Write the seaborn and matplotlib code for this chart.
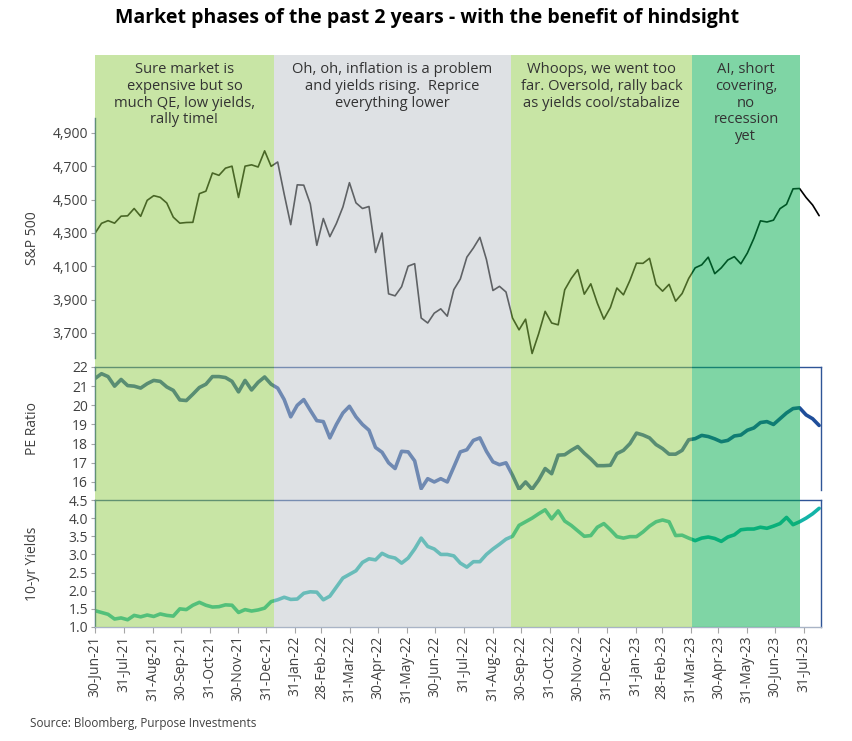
import pandas as pd
import matplotlib.pyplot as plt
from matplotlib.ticker import FuncFormatter
import seaborn as sns

# ========== Setup ==========
sns.set_theme(style="white")
plt.rcParams["font.family"] = ["Open Sans", "DejaVu Sans"]

W, H = 852, 741

# ========== Data (weekly) ==========
start_date = "2021-06-30"
n_weeks = 112

spx = [4298, 4358, 4374, 4359, 4401, 4403, 4447, 4400, 4496, 4524,
       4514, 4480, 4395, 4359, 4363, 4364, 4536, 4551, 4660, 4646,
       4689, 4701, 4513, 4701, 4709, 4696, 4793, 4700, 4726, 4533,
       4350, 4589, 4587, 4475, 4226, 4387, 4278, 4357, 4456, 4602,
       4481, 4447, 4459, 4183, 4300, 3935, 3923, 3978, 4101, 4116,
       3790, 3760, 3819, 3845, 3801, 3960, 4024, 4155, 4210, 4274,
       4141, 3955, 3980, 3946, 3790, 3719, 3783, 3577, 3695, 3830,
       3760, 3749, 3959, 4027, 4080, 3933, 3995, 3879, 3783, 3853,
       3970, 3929, 4016, 4119, 4118, 4148, 3991, 3951, 3992, 3891,
       3937, 4027, 4091, 4109, 4155, 4056, 4091, 4138, 4158, 4115,
       4180, 4268, 4373, 4366, 4377, 4446, 4472, 4565, 4567, 4513,
       4468, 4404]

pe_ratio = [21.4, 21.65, 21.5, 21.0, 21.35, 21.03, 21.0, 20.9, 21.13, 21.3,
            21.25, 20.96, 20.78, 20.28, 20.25, 20.58, 20.93, 21.1, 21.5, 21.5,
            21.45, 21.25, 20.7, 21.3, 20.8, 21.2, 21.48, 21.1, 20.9, 20.3,
            19.4, 20.0, 20.3, 19.74, 19.2, 19.15, 18.3, 19.0, 19.6, 19.95,
            19.4, 19.0, 18.7, 17.8, 17.55, 17.0, 16.7, 17.6, 17.57, 17.1,
            15.65, 16.17, 16.0, 16.17, 16.0, 16.78, 17.57, 17.68, 18.17, 18.3,
            17.6, 17.05, 16.9, 17.0, 16.35, 15.62, 16.0, 15.62, 16.09, 16.7,
            16.43, 17.4, 17.42, 17.65, 17.85, 17.5, 17.2, 16.85, 16.85, 16.87,
            17.48, 17.65, 18.0, 18.55, 18.45, 18.3, 17.95, 17.74, 17.45, 17.45,
            17.65, 18.2, 18.26, 18.43, 18.37, 18.25, 18.1, 18.17, 18.4, 18.45,
            18.7, 18.82, 19.1, 19.15, 19.0, 19.3, 19.6, 19.83, 19.87, 19.5,
            19.3, 18.95]

yields_10y = [1.45, 1.4, 1.35, 1.22, 1.25, 1.2, 1.32, 1.28, 1.33, 1.29,
              1.36, 1.32, 1.3, 1.5, 1.48, 1.6, 1.68, 1.6, 1.55, 1.56,
              1.61, 1.6, 1.4, 1.48, 1.44, 1.47, 1.52, 1.7, 1.75, 1.82,
              1.76, 1.77, 1.93, 1.97, 1.96, 1.75, 1.85, 2.1, 2.35, 2.45,
              2.55, 2.78, 2.88, 2.85, 3.03, 2.94, 2.9, 2.76, 2.9, 3.15,
              3.45, 3.22, 3.15, 3.0, 3.0, 2.96, 2.76, 2.65, 2.8, 2.8,
              3.0, 3.15, 3.28, 3.42, 3.5, 3.8, 3.9, 4.0, 4.12, 4.23,
              3.98, 4.2, 3.92, 3.8, 3.65, 3.5, 3.52, 3.75, 3.85, 3.68,
              3.49, 3.45, 3.49, 3.49, 3.62, 3.78, 3.9, 3.95, 3.9, 3.52,
              3.53, 3.45, 3.38, 3.45, 3.48, 3.44, 3.36, 3.48, 3.54, 3.68,
              3.7, 3.7, 3.75, 3.72, 3.78, 3.85, 4.02, 3.82, 3.9, 4.0,
              4.12, 4.27]

phase_edges = ["2021-06-30", "2022-01-08", "2022-09-19", "2023-04-02", "2023-07-26"]
phase_colors = ["#93cd4d", "#bfc5cb", "#93cd4d", "#00ad4d"]
phase_notes = [
    "Sure market is\nexpensive but so\nmuch QE, low yields,\nrally time!",
    "Oh, oh, inflation is a problem\nand yields rising.  Reprice\neverything lower",
    "Whoops, we went too\nfar. Oversold, rally back\nas yields cool/stabalize",
    "AI, short\ncovering,\nno\nrecession\nyet",
]

spx_ticks = [3700, 3900, 4100, 4300, 4500, 4700, 4900]
pe_ticks = [16, 17, 18, 19, 20, 21, 22]
yld_ticks = [1.0, 1.5, 2.0, 2.5, 3.0, 3.5, 4.0, 4.5]

dates = pd.date_range(start_date, periods=n_weeks, freq="7D")
df = pd.DataFrame({"date": dates, "spx": spx, "pe": pe_ratio, "yld": yields_10y})

x_min = pd.Timestamp("2021-06-30")
x_max = pd.Timestamp("2023-08-18")
month_ends = pd.date_range("2021-06-30", "2023-07-31", freq="ME")

BLUE = "#2f5597"
TXT = "#404040"


def rect(top, bottom, left=95, right=821):
    return [left / W, 1 - bottom / H, (right - left) / W, (bottom - top) / H]


fig = plt.figure(figsize=(W / 100, H / 100), dpi=100)
ax1 = fig.add_axes(rect(118, 358))
ax2 = fig.add_axes(rect(367, 490))
ax3 = fig.add_axes(rect(500, 627))

sns.lineplot(data=df, x="date", y="spx", ax=ax1, color="black", lw=1.2)
sns.lineplot(data=df, x="date", y="pe", ax=ax2, color="#1f4e9a", lw=2.6)
sns.lineplot(data=df, x="date", y="yld", ax=ax3, color="#14b4a8", lw=2.6)

ax1.set_ylim(3550, 4990)
ax2.set_ylim(15.58, 22)
ax3.set_ylim(1.0, 4.5)

for ax in (ax1, ax2, ax3):
    ax.set_xlim(x_min, x_max)
    ax.set_facecolor("none")
    ax.set_xlabel("")
    for s in ax.spines.values():
        s.set_color(BLUE)
        s.set_linewidth(1.0)
    ax.tick_params(axis="y", length=3, width=0.8, color="#a6a6a6",
                   labelsize=10, labelcolor=TXT, pad=2, left=True)
    ax.yaxis.set_label_coords(-0.076, 0.5)

ax1.set_yticks(spx_ticks)
ax1.yaxis.set_major_formatter(FuncFormatter(lambda v, p: f"{int(v):,}"))
ax1.spines["top"].set_visible(False)
ax1.spines["right"].set_visible(False)
ax1.spines["bottom"].set_visible(False)
ax1.set_xticks([])
ax1.set_ylabel("S&P 500", fontsize=10, color=TXT)

ax2.set_yticks(pe_ticks)
ax2.spines["bottom"].set_visible(False)
ax2.set_xticks([])
ax2.set_ylabel("PE Ratio", fontsize=10, color=TXT)

ax3.set_yticks(yld_ticks)
ax3.yaxis.set_major_formatter(FuncFormatter(lambda v, p: f"{v:.1f}"))
ax3.spines["bottom"].set_color("#a9b4c6")
ax3.set_xticks(month_ends)
ax3.set_xticklabels([d.strftime("%d-%b-%y") for d in month_ends], rotation=90)
ax3.tick_params(axis="x", length=4, width=0.8, color="#a6a6a6", labelsize=10,
                labelcolor=TXT, pad=2, bottom=True)
ax3.set_ylabel("10-yr Yields", fontsize=10, color=TXT)

# ========== Phase shading (translucent overlay across all panels) ==========
ov = fig.add_axes(rect(55, 627))
ov.set_zorder(2)
ov.set_xlim(x_min, x_max)
ov.axis("off")
ov.patch.set_visible(False)
for i, c in enumerate(phase_colors):
    ov.axvspan(pd.Timestamp(phase_edges[i]), pd.Timestamp(phase_edges[i + 1]),
               color=c, alpha=0.5, lw=0)

for i, note in enumerate(phase_notes):
    mid = pd.Timestamp(phase_edges[i]) + (pd.Timestamp(phase_edges[i + 1]) - pd.Timestamp(phase_edges[i])) / 2
    ov.text(mid, 0.987, note, transform=ov.get_xaxis_transform(), ha="center", va="top",
            fontsize=10.6, color="#333333", linespacing=1.15, zorder=5)

fig.text(0.501, 1 - 18 / H, "Market phases of the past 2 years - with the benefit of hindsight",
         ha="center", va="center", fontsize=14, fontweight="bold", color="black")
fig.text(30 / W, 1 - 724 / H, "Source: Bloomberg, Purpose Investments",
         ha="left", va="center", fontsize=8.5, color=TXT)

fig.savefig("out.png", dpi=100)
